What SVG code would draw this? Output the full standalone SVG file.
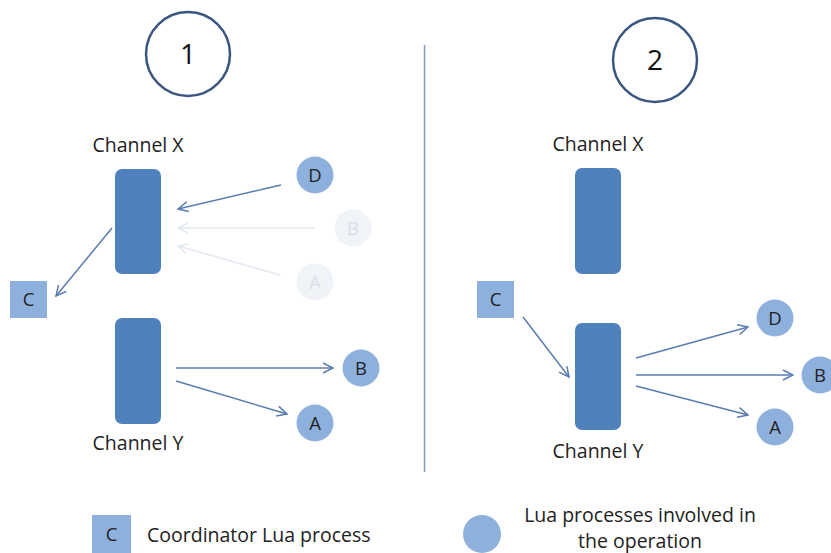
<svg xmlns="http://www.w3.org/2000/svg" width="831" height="553" viewBox="0 0 831 553">
  <style>
    text { font-family: "Open Sans", "Liberation Sans", Arial, sans-serif; fill: #222; }
    .label { font-size: 19.5px; }
    .ch { fill: #4f81bd; }
    .proc { fill: #8eb0dc; }
    .ghost { fill: #f0f3f8; }
    .ghost-t { fill: #dadfe7; }
    .num { fill: none; stroke: #3a5680; stroke-width: 2.5; }
    .numt { font-size: 28px; fill: #111; }
    .pl { font-size: 18.5px; text-anchor: middle; }
    .edge { stroke: #5a7cb0; stroke-width: 1.5; fill: none; marker-end: url(#arr); }
    .edge-faint { stroke: #e1e8f1; stroke-width: 1.5; fill: none; marker-end: url(#arrf); }
  </style>
  <defs>
    <marker id="arr" viewBox="0 0 12 12" refX="11" refY="6" markerWidth="12" markerHeight="12" markerUnits="userSpaceOnUse" orient="auto">
      <path d="M1,1 L11,6 L1,11" fill="none" stroke="#5a7cb0" stroke-width="1.5"/>
    </marker>
    <marker id="arrf" viewBox="0 0 12 12" refX="11" refY="6" markerWidth="12" markerHeight="12" markerUnits="userSpaceOnUse" orient="auto">
      <path d="M1,1 L11,6 L1,11" fill="none" stroke="#e1e8f1" stroke-width="1.5"/>
    </marker>
  </defs>

  <rect width="831" height="553" fill="#fff"/>

  <!-- step markers -->
  <g id="step1">
    <circle class="num" cx="188" cy="54" r="42"/>
    <text class="numt" x="188" y="64" text-anchor="middle">1</text>
  </g>
  <g id="step2">
    <circle class="num" cx="655" cy="60" r="42"/>
    <text class="numt" x="655" y="70" text-anchor="middle">2</text>
  </g>

  <!-- divider -->
  <line x1="424.5" y1="45" x2="424.5" y2="472" stroke="#7f9bc0" stroke-width="1.5"/>

  <!-- connectors -->
  <g id="connectors">
    <line class="edge-faint" x1="315" y1="228" x2="178" y2="228"/>
    <line class="edge-faint" x1="280" y1="275" x2="178" y2="246"/>
    <line class="edge" x1="281" y1="185" x2="178" y2="209"/>
    <line class="edge" x1="112" y1="228" x2="56" y2="296"/>
    <line class="edge" x1="176" y1="368" x2="333" y2="368"/>
    <line class="edge" x1="176" y1="381" x2="287" y2="414"/>

    <line class="edge" x1="523" y1="317" x2="569" y2="377"/>
    <line class="edge" x1="636" y1="358" x2="748" y2="327"/>
    <line class="edge" x1="636" y1="375" x2="793" y2="375"/>
    <line class="edge" x1="636" y1="386" x2="748" y2="415"/>
  </g>

  <!-- panel 1 -->
  <g id="p1-channel-x">
    <rect class="ch" x="115" y="169" width="46" height="105" rx="7"/>
    <text class="label" x="138" y="152" text-anchor="middle">Channel X</text>
  </g>
  <g id="p1-channel-y">
    <rect class="ch" x="115" y="318" width="46" height="106" rx="7"/>
    <text class="label" x="138" y="450" text-anchor="middle">Channel Y</text>
  </g>
  <g id="p1-c">
    <rect class="proc" x="10" y="281" width="37" height="37"/>
    <text class="pl" x="28.5" y="306">C</text>
  </g>
  <g id="p1-d">
    <circle class="proc" cx="315" cy="175" r="18.5"/>
    <text class="pl" x="315" y="181.5">D</text>
  </g>
  <g id="p1-b-faded">
    <circle class="ghost" cx="353" cy="228" r="18.5"/>
    <text class="pl ghost-t" x="353" y="234.5">B</text>
  </g>
  <g id="p1-a-faded">
    <circle class="ghost" cx="315" cy="282" r="18.5"/>
    <text class="pl ghost-t" x="315" y="288.5">A</text>
  </g>
  <g id="p1-b">
    <circle class="proc" cx="361" cy="368" r="18.5"/>
    <text class="pl" x="361" y="374.5">B</text>
  </g>
  <g id="p1-a">
    <circle class="proc" cx="315" cy="423" r="18.5"/>
    <text class="pl" x="315" y="429.5">A</text>
  </g>

  <!-- panel 2 -->
  <g id="p2-channel-x">
    <rect class="ch" x="575" y="168" width="46" height="106" rx="7"/>
    <text class="label" x="598" y="151" text-anchor="middle">Channel X</text>
  </g>
  <g id="p2-channel-y">
    <rect class="ch" x="575" y="323" width="46" height="107" rx="7"/>
    <text class="label" x="598" y="458" text-anchor="middle">Channel Y</text>
  </g>
  <g id="p2-c">
    <rect class="proc" x="477" y="281" width="37" height="37"/>
    <text class="pl" x="495.5" y="306">C</text>
  </g>
  <g id="p2-d">
    <circle class="proc" cx="775" cy="318" r="18.5"/>
    <text class="pl" x="775" y="324.5">D</text>
  </g>
  <g id="p2-b">
    <circle class="proc" cx="820" cy="375" r="18.5"/>
    <text class="pl" x="820" y="381.5">B</text>
  </g>
  <g id="p2-a">
    <circle class="proc" cx="775" cy="427" r="18.5"/>
    <text class="pl" x="775" y="433.5">A</text>
  </g>

  <!-- legend -->
  <g id="legend-coordinator">
    <rect class="proc" x="92" y="515" width="39" height="40"/>
    <text class="pl" x="111.5" y="541">C</text>
    <text class="label" x="147" y="542">Coordinator Lua process</text>
  </g>
  <g id="legend-process">
    <circle class="proc" cx="482" cy="534" r="19"/>
    <text class="label" x="640" y="521.5" text-anchor="middle">Lua processes involved in</text>
    <text class="label" x="640" y="548" text-anchor="middle">the operation</text>
  </g>
</svg>
